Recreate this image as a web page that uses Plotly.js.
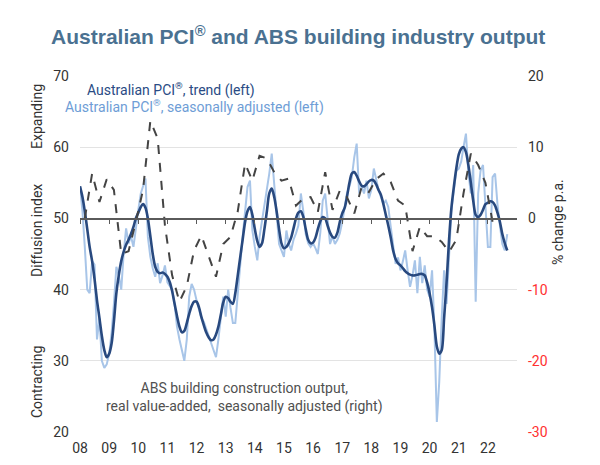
<!DOCTYPE html>
<html><head><meta charset="utf-8">
<script src="https://cdn.plot.ly/plotly-3.0.1.min.js"></script>
<style>html,body{margin:0;padding:0;background:#fff}#chart{width:600px;height:465px}</style>
</head><body><div id="chart"></div>
<script>
// ---- Data ----
const pciStartYear = 2008; // monthly, Jan 2008 .. Sep 2022
const pciTrend = [
  54.5,53,51,48.5,46,44,41.5,38.5,36,33.5,31.5,30.5,
  31,32.5,35.5,39.5,42,44,45.3,46.3,47,47.8,48.8,50,
  50.8,51.6,52,51.5,50,47.5,45,43.2,42.5,42.3,42.4,42.2,
  41.8,41,39.8,38,36.3,34.8,34,34.2,35.3,36.6,37.7,38.3,
  38.3,37.5,36.2,35,34,33.3,32.9,33,33.7,34.8,36.5,38.2,
  39,38.8,38.3,38,39.5,42,44.5,47,49.5,51,51.6,50.5,
  48.5,46.8,46,46.5,48.5,51,53.5,54.2,53,51,48.5,46.5,
  45.8,46,46.5,47.3,48.6,50,50.8,51,50.2,48.5,47,46.5,
  46.6,47.3,48.5,49.6,50.2,50,49,48,47.4,47.3,48,49.5,
  50.7,51.5,53,55,56.3,56.5,56,55.2,54.6,54.5,54.8,55.2,
  55.4,55.3,54.8,54,53.3,52,50.5,49,47.3,45.5,44.3,43.7,
  43.4,43,42.6,42.3,42.1,42,42,42.1,42.2,42.2,42,41,
  39.5,37.5,35,32,31,31.5,36,41,47,51.5,54.5,57,
  59,59.8,60,59.3,57.5,55,52.5,50.5,50.2,50.5,51.2,52,
  52.2,52.4,52.3,51.8,50.8,49.5,47.8,46.5,45.5
];
const pciSeasAdj = [
  54.5,51,46,40,39.5,44,43.5,33,36,30,29,29.5,
  31,34,38,43.2,42,40,45,48.6,46.5,47.5,46,48.8,
  51.2,53.5,54.5,55.6,47.4,44.6,43,41.8,43.7,40.9,42,43.4,
  41,40.5,40,38,34.8,33,31.5,30,33,39,40.8,40,
  38.5,37.1,36,35.5,34.5,33.4,32.5,31.5,30.5,33,36.2,39,
  36.2,40,37.5,35.3,35.3,39.5,44.1,47.4,51,54.4,55.3,48.3,
  46,44.1,47.4,49.5,52.1,54,56.3,59.1,55,51.5,46.4,45.5,
  44.6,48.3,46.5,45.5,47,47.9,49,53.5,51,47.8,46.5,46,
  46.5,45.8,45,48,52.5,53.5,50,46.4,47.5,46.4,47,47.9,
  49.5,51.6,53.5,54.5,55.8,58.6,60.5,53.5,54.5,53.5,55.3,52.8,
  54,57,55.5,54,53,52.1,52.5,51.6,48.8,46,43.6,44.5,
  42.7,44,45.5,42.7,40.4,42,44.1,39.5,44.6,40.9,43.4,40,
  39,42.7,34.8,21.4,27,36,42.7,38,45,51.1,54,56.7,
  57,58,60,61.9,56.5,53.5,57.5,38.3,53.5,56.7,57.5,52,
  46,46,55.8,56.3,52,49,46.4,45.5,47.8
];
const absStartYear = 2008; // quarterly (Mar, Jun, Sep, Dec), Mar 2008 .. Mar 2022
const absOutput = [
  0,6.3,2.3,5.5,
  4,-5,-4.6,-0.5,
  4,13.7,11.2,-1,
  -8,-11.7,-9.5,-4.5,
  -2.4,-5.4,-8.2,-3.6,
  -2.6,1,7.7,5.3,
  8.8,8.4,6.5,5.3,
  5.6,1.8,2.8,3,
  0.9,6.5,1.2,3.9,
  3,0.7,4.4,3.7,
  5.5,6.3,5.1,2.5,
  1.8,-4.6,-1.2,-2.5,
  -2.5,-3.3,-4.7,-3,
  3.5,9.1,7.5,5,
  -0.5
];
const xTickYears = [2008,2009,2010,2011,2012,2013,2014,2015,2016,2017,2018,2019,2020,2021,2022];
const xTickLabels = ['08','09','10','11','12','13','14','15','16','17','18','19','20','21','22'];
const leftTicks = [20,30,40,50,60,70];
const rightTicks = [-30,-20,-10,0,10,20];
const rightTickLabels = ['-30','-20','-10','0','10','20'];
const rightTickColors = ['#ff3030','#ff3030','#ff3030','#333333','#333333','#333333'];

// ---- Helpers ----
function pad(m){return (m<10?'0':'')+m;}
function monthDates(n,y0){const d=[];for(let i=0;i<n;i++){d.push((y0+Math.floor(i/12))+'-'+pad(i%12+1)+'-01');}return d;}
function quarterDates(n,y0){const d=[];for(let i=0;i<n;i++){d.push((y0+Math.floor(i/4))+'-'+pad(3*(i%4)+3)+'-01');}return d;}
const yearDates = xTickYears.map(y=>y+'-01-01');

const FONT = 'Roboto, "Liberation Sans", Arial, sans-serif';
const TXT = '#333333';

const traces = [
  {x: monthDates(pciSeasAdj.length, pciStartYear), y: pciSeasAdj, type:'scatter', mode:'lines',
   line:{color:'#a8c5e8', width:2}, xaxis:'x', yaxis:'y', hoverinfo:'skip'},
  {x: monthDates(pciTrend.length, pciStartYear), y: pciTrend, type:'scatter', mode:'lines',
   line:{color:'#28497f', width:2.6, shape:'spline', smoothing:0.8}, xaxis:'x', yaxis:'y', hoverinfo:'skip'},
  {x: quarterDates(absOutput.length, absStartYear), y: absOutput, type:'scatter', mode:'lines',
   line:{color:'#444444', width:2, dash:'dash'}, xaxis:'x2', yaxis:'y2', hoverinfo:'skip'}
];

const range = ['2008-01-01','2023-01-01'];
const layout = {
  width:600, height:465,
  margin:{l:80, r:83, t:76, b:33},
  paper_bgcolor:'#ffffff', plot_bgcolor:'#ffffff',
  showlegend:false,
  font:{family:FONT, color:TXT, size:14},
  title:{text:'<b>Australian PCI<sup>®</sup> and ABS building industry output</b>',
    font:{family:'"Liberation Sans", Arial, sans-serif', size:21, color:'#4a7191'},
    x:0.497, xref:'container', xanchor:'center', y:1-37/465, yref:'container', yanchor:'middle'},
  xaxis:{type:'date', range:range, tickvals:yearDates, ticktext:xTickLabels,
    showgrid:false, zeroline:false, showline:false, ticks:'', ticklabelstandoff:6,
    tickfont:{family:FONT, size:14, color:TXT}, fixedrange:true},
  xaxis2:{type:'date', range:range, overlaying:'x', anchor:'free', position:0.6,
    showline:true, linecolor:'#5a5a5a', linewidth:1.5, ticks:'outside', ticklen:4, tickwidth:1,
    tickcolor:'#5a5a5a', tickvals:yearDates, showticklabels:false, showgrid:false, zeroline:false, fixedrange:true},
  yaxis:{range:[20,70], tickvals:leftTicks, showgrid:true, gridcolor:'#e3e3e3', gridwidth:1,
    zeroline:false, showline:false, ticks:'', ticklabelstandoff:10,
    tickfont:{family:FONT, size:14, color:TXT}, fixedrange:true},
  yaxis2:{range:[-30,20], overlaying:'y', side:'right', anchor:'x', tickvals:rightTicks,
    ticktext:rightTickLabels.map((t,i)=>'<span style="color:'+rightTickColors[i]+'">'+t+'</span>'),
    showgrid:false, zeroline:false, showline:false, ticks:'', ticklabelstandoff:10,
    tickfont:{family:FONT, size:14, color:TXT}, fixedrange:true},
  annotations:[
    {text:'Australian PCI<sup>®</sup>, trend (left)', xref:'paper', yref:'paper', x:(85-80)/437, y:(432-89)/356,
     xanchor:'left', yanchor:'middle', showarrow:false, font:{family:FONT, size:14, color:'#2a4b84'}},
    {text:'Australian PCI<sup>®</sup>, seasonally adjusted (left)', xref:'paper', yref:'paper', x:(63-80)/437, y:(432-106)/356,
     xanchor:'left', yanchor:'middle', showarrow:false, font:{family:FONT, size:14, color:'#6e9dd6'}},
    {text:'ABS building construction output,<br>real value-added,\u00a0 seasonally adjusted (right)', xref:'paper', yref:'paper',
     x:(244-80)/437, y:(432-397)/356, xanchor:'center', yanchor:'middle', align:'center', showarrow:false,
     font:{family:FONT, size:14, color:'#505050'}},
    {text:'Expanding', xref:'paper', yref:'paper', x:(37-80)/437, y:(432-117)/356, textangle:-90,
     xanchor:'center', yanchor:'middle', showarrow:false, font:{family:FONT, size:14, color:TXT}},
    {text:'Diffusion index', xref:'paper', yref:'paper', x:(37-80)/437, y:(432-231)/356, textangle:-90,
     xanchor:'center', yanchor:'middle', showarrow:false, font:{family:FONT, size:14, color:TXT}},
    {text:'Contracting', xref:'paper', yref:'paper', x:(37-80)/437, y:(432-382)/356, textangle:-90,
     xanchor:'center', yanchor:'middle', showarrow:false, font:{family:FONT, size:14, color:TXT}},
    {text:'% change p.a.', xref:'paper', yref:'paper', x:(558-80)/437, y:(432-222)/356, textangle:-90,
     xanchor:'center', yanchor:'middle', showarrow:false, font:{family:FONT, size:14, color:TXT}}
  ]
};

Plotly.newPlot('chart', traces, layout, {staticPlot:true, displayModeBar:false});
</script>
</body></html>
